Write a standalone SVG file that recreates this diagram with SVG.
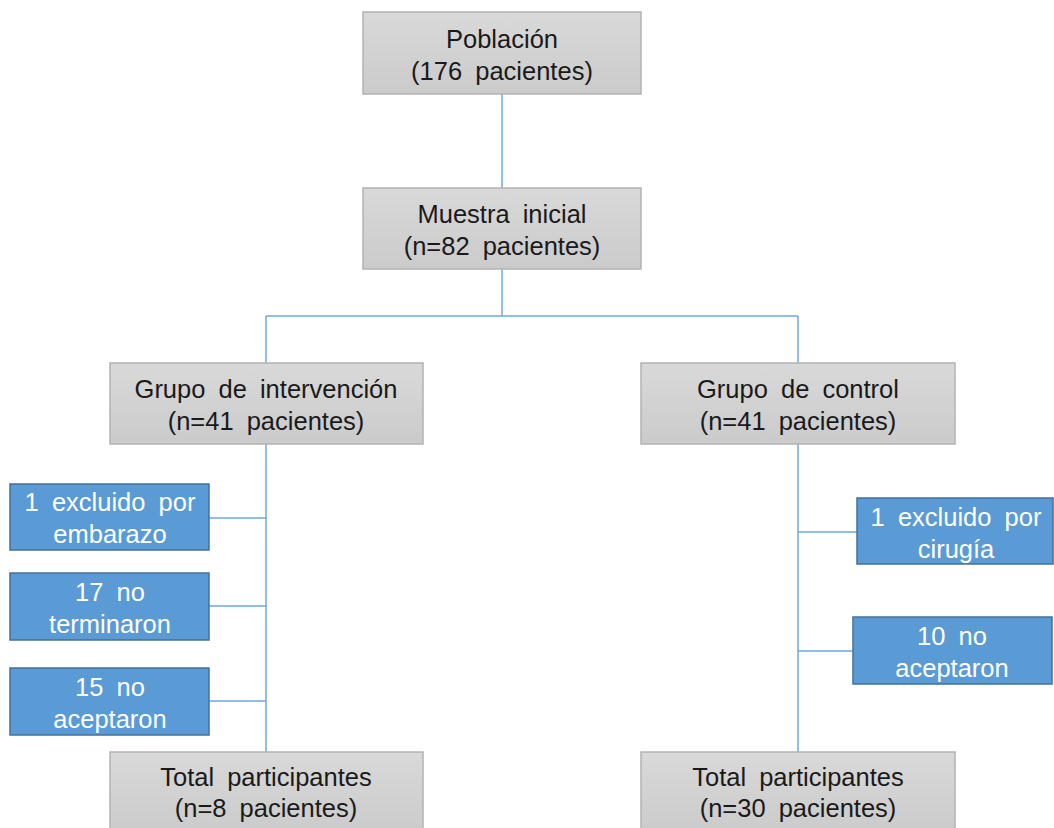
<svg xmlns="http://www.w3.org/2000/svg" width="1054" height="828" viewBox="0 0 1054 828">
<defs>
<linearGradient id="g" x1="0" y1="0" x2="0" y2="1">
<stop offset="0" stop-color="#d9d9d9"/>
<stop offset="1" stop-color="#cbcbcb"/>
</linearGradient>
<style>
.gray{fill:url(#g);stroke:#b3b3b3;stroke-width:1.5}
.blue{fill:#5b9bd5;stroke:#41719c;stroke-width:1.5}
.t{font-family:"Liberation Sans",Arial,sans-serif;font-size:25.5px;word-spacing:6px;text-anchor:middle;fill:#1a1a1a}
.w{font-family:"Liberation Sans",Arial,sans-serif;font-size:25.5px;word-spacing:6px;text-anchor:middle;fill:#ffffff}
.c{stroke:#6fa8dc;stroke-width:1.5;fill:none}
</style>
</defs>
<rect width="1054" height="828" fill="#ffffff"/>
<g id="connectors">
<path class="c" d="M502 94V188M502 269V316M266 316H798M266 316V363M798 316V363"/>
<path class="c" d="M266 444V752M209 518H266M209 606H266M209 701H266"/>
<path class="c" d="M798 444V752M798 532H857M798 651H853"/>
</g>
<g id="poblacion">
<rect class="gray" x="363" y="12" width="278" height="82"/>
<text class="t" x="502" y="48">Población</text>
<text class="t" x="502" y="80">(176 pacientes)</text>
</g>
<g id="muestra">
<rect class="gray" x="363" y="188" width="278" height="81"/>
<text class="t" x="502" y="223">Muestra inicial</text>
<text class="t" x="502" y="255">(n=82 pacientes)</text>
</g>
<g id="intervencion">
<rect class="gray" x="110" y="363" width="313" height="81"/>
<text class="t" x="266" y="398">Grupo de intervención</text>
<text class="t" x="266" y="430">(n=41 pacientes)</text>
</g>
<g id="control">
<rect class="gray" x="641" y="363" width="314" height="81"/>
<text class="t" x="798" y="398">Grupo de control</text>
<text class="t" x="798" y="430">(n=41 pacientes)</text>
</g>
<g id="excl-embarazo">
<rect class="blue" x="10" y="484" width="199" height="66"/>
<text class="w" x="110" y="511">1 excluido por</text>
<text class="w" x="110" y="543">embarazo</text>
</g>
<g id="no-terminaron">
<rect class="blue" x="10" y="573" width="199" height="67"/>
<text class="w" x="110" y="601">17 no</text>
<text class="w" x="110" y="633">terminaron</text>
</g>
<g id="no-aceptaron-left">
<rect class="blue" x="10" y="668" width="199" height="67"/>
<text class="w" x="110" y="696">15 no</text>
<text class="w" x="110" y="728">aceptaron</text>
</g>
<g id="excl-cirugia">
<rect class="blue" x="857" y="498" width="196" height="66"/>
<text class="w" x="956" y="526">1 excluido por</text>
<text class="w" x="956" y="558">cirugía</text>
</g>
<g id="no-aceptaron-right">
<rect class="blue" x="853" y="617" width="199" height="67"/>
<text class="w" x="952" y="645">10 no</text>
<text class="w" x="952" y="677">aceptaron</text>
</g>
<g id="total-left">
<rect class="gray" x="110" y="752" width="313" height="80"/>
<text class="t" x="266" y="786">Total participantes</text>
<text class="t" x="266" y="817">(n=8 pacientes)</text>
</g>
<g id="total-right">
<rect class="gray" x="641" y="752" width="314" height="80"/>
<text class="t" x="798" y="786">Total participantes</text>
<text class="t" x="798" y="817">(n=30 pacientes)</text>
</g>
</svg>
